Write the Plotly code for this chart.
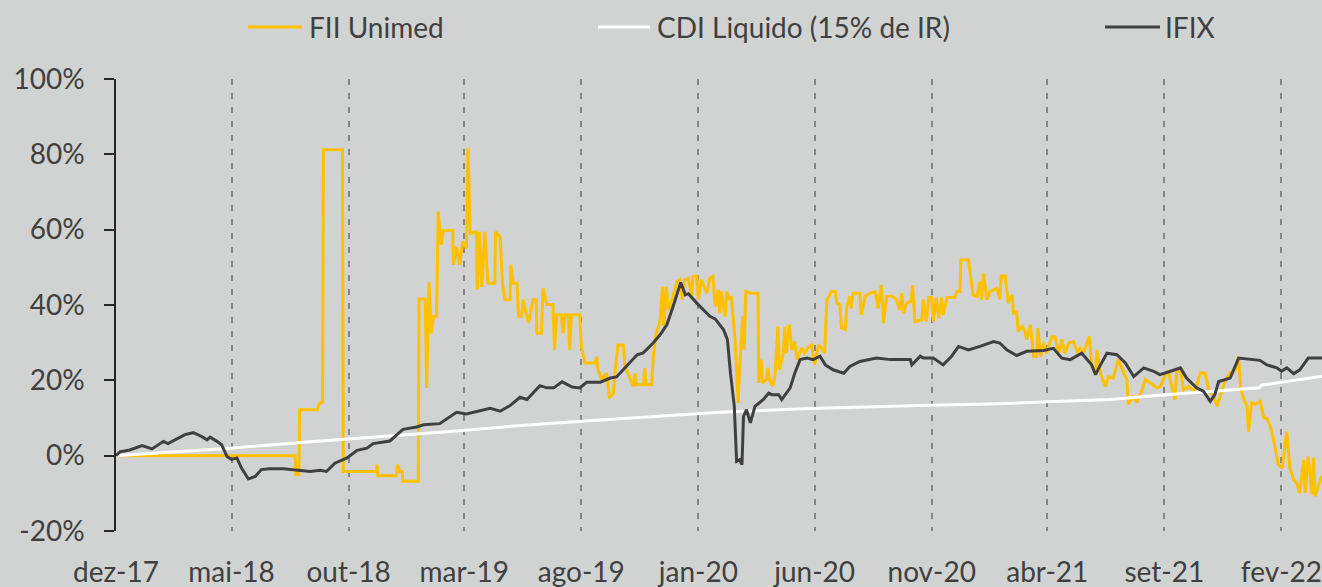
import pandas as pd
import plotly.graph_objects as go

# ---------------- data ----------------
start_date = "2017-12-01"   # day 0 of the series (days below are offsets from it)

fii_days = [0, 234, 235, 239, 240, 263, 265, 268, 270, 271, 296, 297, 340, 341, 342, 366, 368, 371, 374, 375,
            395, 396, 404, 406, 409, 412, 415, 419, 421, 425, 428, 432, 440, 441, 445, 449, 453, 458, 460, 463,
            471, 472, 475, 478, 482, 486, 495, 496, 502, 505, 508, 515, 516, 519, 524, 526, 530, 532, 539, 545,
            549, 550, 556, 558, 563, 571, 573, 576, 582, 584, 587, 591, 593, 595, 606, 608, 613, 626, 628, 630,
            635, 641, 645, 650, 652, 656, 663, 665, 676, 678, 680, 689, 691, 693, 700, 702, 706, 711, 714, 716,
            719, 722, 728, 733, 737, 740, 743, 748, 752, 754, 759, 761, 765, 772, 776, 780, 783, 787, 789, 791,
            796, 798, 802, 804, 806, 809, 811, 813, 815, 817, 819, 821, 823, 828, 839, 840, 843, 845, 850, 852,
            854, 858, 861, 865, 867, 872, 874, 876, 880, 883, 887, 890, 896, 900, 904, 909, 913, 918, 922, 926,
            929, 935, 940, 942, 946, 948, 953, 955, 959, 961, 963, 972, 974, 979, 985, 992, 996, 1000, 1003, 1007,
            1014, 1018, 1020, 1024, 1027, 1029, 1033, 1039, 1041, 1044, 1053, 1055, 1059, 1062, 1066, 1068, 1072,
            1075, 1079, 1081, 1086, 1096, 1099, 1103, 1104, 1114, 1116, 1118, 1120, 1125, 1129, 1131, 1134, 1138,
            1142, 1151, 1155, 1157, 1162, 1166, 1171, 1173, 1177, 1179, 1184, 1188, 1190, 1195, 1197, 1199, 1203,
            1205, 1208, 1212, 1216, 1223, 1227, 1232, 1236, 1240, 1245, 1251, 1256, 1260, 1264, 1269, 1272, 1275,
            1280, 1282, 1286, 1293, 1297, 1303, 1310, 1317, 1321, 1323, 1328, 1334, 1341, 1345, 1352, 1360, 1365,
            1371, 1375, 1384, 1386, 1391, 1395, 1402, 1408, 1412, 1417, 1423, 1428, 1434, 1439, 1443, 1450, 1456,
            1463, 1467, 1470, 1474, 1478, 1480, 1484, 1489, 1495, 1500, 1504, 1510, 1515, 1519, 1524, 1530, 1534,
            1539, 1543, 1547, 1552, 1554, 1558, 1563, 1565, 1567, 1571, 1576]
fii_values = [0, 0, -5, -5, 12.2, 12.2, 13.5, 14.2, 14.2, 81.2, 81.2, -4.2, -4.2, -2.4, -5.3, -5.3, -2.4, -4.2, -4.2, -6.8,
              -6.8, 41.6, 41.6, 18, 46, 32.5, 37, 37, 64.8, 56, 59.8, 59.8, 59.8, 50.7, 55.4, 50.7, 56.8, 55.1, 81.6, 59,
              59.4, 44, 59.4, 44.8, 59.4, 45.8, 45.8, 59.4, 58, 45.8, 41.4, 41.4, 50.7, 45.8, 45.8, 37, 37, 41.4, 35.2, 41.4,
              41.4, 32.5, 32.5, 44.4, 40.1, 40.1, 28.1, 37.4, 37.4, 32.5, 37.4, 37.4, 28.1, 37.4, 37.4, 29, 24.6, 24.6, 26.3, 22.8,
              20.2, 21.9, 15.3, 16.6, 21.9, 29.4, 29.4, 23.7, 18.4, 21.9, 18.8, 18.8, 23.3, 18.8, 18.8, 26.3, 32.5, 35.6, 44.9, 34.3,
              44.9, 38.7, 42.3, 46.2, 46.7, 41.4, 46.7, 47.1, 42.3, 47.6, 47.6, 41.4, 46.7, 43.1, 47.1, 47.6, 39.6, 44, 37.8, 43.6,
              36.9, 43.6, 41.4, 42.3, 37, 30.8, 22.8, 14, 23.7, 32.5, 37, 28.1, 43.6, 43.1, 43.1, 19.3, 25.5, 19.3, 20.2, 23.3,
              20.2, 18.4, 21, 34.3, 22.8, 27.2, 34.3, 27.2, 34.7, 28.1, 30.3, 25.5, 28.6, 27.2, 28.6, 29.4, 24.1, 29.4, 28.6, 27.2,
              41.4, 43.6, 43.6, 40.5, 40.1, 33.9, 33.5, 39.6, 42.3, 39.1, 43.1, 43.1, 37.4, 42.3, 43.1, 43.6, 39.1, 45.3, 35.2, 42.3,
              42.3, 41.8, 41.4, 38.7, 43.1, 37.8, 40.5, 41, 45.3, 35.6, 36, 41.4, 35.6, 42, 42, 35.6, 42,
              36.5, 42, 37.4, 42, 42, 43.6, 43.6, 52, 52, 48.5, 45.8, 42.7, 42.3, 46.2, 41.4, 48.3, 41.4,
              43.6, 44.4, 41.4, 47.7, 47.7, 40.5, 42.7, 37.8, 38.2, 33, 34.3, 33, 30.8, 34.7, 30.8, 26.3, 26.3,
              33.9, 26.3, 29.9, 27.2, 31.6, 31.6, 27.2, 30.8, 27.2, 29.9, 30.3, 27.6, 28.5, 27.2, 29.9, 31.6, 23.7,
              22, 28.1, 22, 18.4, 21, 20.6, 25.5, 22, 20.2, 13.6, 15.9, 14.1, 17.6, 20.2, 19.3, 18, 18.4,
              21.5, 22.4, 14.9, 22, 22.8, 17.5, 18.4, 17.1, 18.4, 22, 22, 17.5, 15.9, 13.1, 15.9, 20.2, 22,
              22.8, 26.3, 17.5, 14.9, 13.1, 6.4, 14, 13.6, 14.4, 10, 10, 6.9, 1.6, -2.4, -3.3, 6.4, -3.3,
              -6.4, -7.3, -9.9, -1.1, -9.9, -0.2, -10.3, -0.6, -10.8, -8.1, -5.4]

cdi_days = [0, 149, 267, 437, 528, 633, 789, 907, 1051, 1155, 1299, 1368, 1494, 1497, 1576]
cdi_values = [0, 2.0, 3.9, 6.4, 8.0, 9.5, 11.5, 12.5, 13.3, 13.8, 14.9, 16.1, 18.0, 18.7, 21.1]

ifix_days = [0, 5, 18, 34, 47, 62, 68, 79, 90, 101, 112, 119, 123, 132, 138, 145, 151, 158, 164, 173,
             182, 190, 201, 219, 236, 254, 267, 275, 286, 302, 315, 328, 336, 358, 375, 393, 402, 423, 445, 458,
             489, 502, 515, 528, 537, 554, 563, 572, 583, 596, 606, 615, 633, 646, 654, 667, 681, 689, 702, 711,
             720, 728, 738, 744, 748, 759, 772, 776, 783, 794, 799, 803, 808, 811, 815, 818, 820, 824, 829, 835,
             846, 853, 857, 866, 870, 881, 887, 894, 903, 911, 920, 927, 937, 951, 959, 972, 994, 1012, 1038, 1040,
             1051, 1055, 1068, 1081, 1092, 1101, 1114, 1129, 1147, 1155, 1164, 1177, 1190, 1212, 1225, 1236, 1247,
             1262, 1275, 1280, 1286, 1295, 1308, 1319, 1330, 1343, 1356, 1364, 1378, 1391, 1399, 1412, 1421, 1430,
             1436, 1441, 1456, 1462, 1467, 1495, 1504, 1517, 1523, 1530, 1539, 1547, 1558, 1576]
ifix_values = [0, 1.0, 1.5, 2.7, 1.8, 3.8, 3.2, 4.4, 5.6, 6.1, 5.1, 4.2, 4.9, 3.8, 2.9, -0.2, -1.0, -0.6, -3.3, -6.2,
               -5.5, -3.7, -3.5, -3.5, -3.9, -4.2, -3.9, -4.2, -2.0, -0.6, 1.4, 2.0, 3.2, 3.9, 7.0, 7.6, 8.2, 8.5, 11.5, 11.1,
               12.6, 11.8, 13.3, 15.5, 14.9, 18.6, 18.0, 18.0, 19.6, 18.2, 18.0, 19.5, 19.5, 20.6, 20.9, 23.7, 26.8, 27.3, 29.9, 32.1,
               34.8, 39.6, 46.0, 42.7, 43.0, 40.5, 37.9, 37.0, 36.3, 33.4, 30.8, 21.9, 13.1, -1.5, -1.1, -2.4, 10.4, 12.2, 8.7, 13.1,
               14.9, 16.6, 16.2, 16.2, 14.9, 18.0, 21.9, 25.5, 25.9, 25.5, 26.4, 24.1, 22.8, 21.9, 23.7, 25.0, 25.9, 25.5, 25.5, 24.1,
               26.4, 25.9, 25.9, 24.1, 26.4, 29.0, 28.1, 29.0, 30.3, 29.9, 28.1, 26.6, 27.7, 27.9, 28.5, 25.9, 25.5,
               27.2, 24.1, 21.5, 23.9, 27.2, 26.8, 24.6, 21.0, 23.3, 22.4, 21.5, 22.4, 23.3, 20.6, 18.0, 17.1, 14.4,
               16.2, 19.7, 20.6, 23.3, 25.9, 25.3, 24.1, 23.3, 22.4, 23.3, 21.8, 22.8, 25.9, 25.9]

tick_dates = ["2017-12-01", "2018-05-01", "2018-10-01", "2019-03-01", "2019-08-01", "2020-01-01",
              "2020-06-01", "2020-11-01", "2021-04-01", "2021-09-01", "2022-02-01"]
tick_labels = ["dez-17", "mai-18", "out-18", "mar-19", "ago-19", "jan-20",
               "jun-20", "nov-20", "abr-21", "set-21", "fev-22"]
y_ticks = [-20, 0, 20, 40, 60, 80, 100]
y_tick_labels = ["-20%", "0%", "20%", "40%", "60%", "80%", "100%"]
end_date = "2022-03-26"

series_names = ["FII Unimed", "CDI Liquido (15% de IR)", "IFIX"]
series_colors = ["#FFC000", "#FFFFFF", "#404040"]

# ---------------- figure ----------------
t0 = pd.Timestamp(start_date)


def to_dates(days):
    return [t0 + pd.Timedelta(days=d) for d in days]


BG = "#D1D3D2"
TXT = "#404040"
FONT = "Lato"
FS = 28

fig = go.Figure()
for name, days, vals, col in zip(series_names,
                                 [fii_days, cdi_days, ifix_days],
                                 [fii_values, cdi_values, ifix_values],
                                 series_colors):
    fig.add_trace(go.Scatter(x=to_dates(days), y=vals, mode="lines", name=name,
                             line=dict(color=col, width=3), showlegend=False,
                             hovertemplate="%{x|%d/%m/%Y}: %{y:.1f}%<extra>" + name + "</extra>"))

fig.update_layout(
    width=1322, height=587,
    margin=dict(l=116, r=0, t=79, b=56, autoexpand=False),
    paper_bgcolor=BG, plot_bgcolor=BG,
    font=dict(family=FONT, size=FS, color=TXT),
    showlegend=False,
)

fig.update_xaxes(
    type="date", range=[start_date, end_date],
    tickmode="array", tickvals=tick_dates, ticktext=tick_labels,
    showgrid=True, gridcolor="#858585", gridwidth=1.5, griddash="6px,8px",
    showline=False, zeroline=False, ticks="",
    tickfont=dict(family=FONT, size=FS, color=TXT),
    ticklabelstandoff=22, automargin=False, ticklabeloverflow="allow",
)
fig.update_yaxes(
    range=[-20, 100], tickmode="array", tickvals=y_ticks, ticktext=y_tick_labels,
    showgrid=False, zeroline=False,
    showline=True, linecolor="#262626", linewidth=1.5,
    ticks="outside", ticklen=10, tickcolor="#262626", tickwidth=1.5,
    tickfont=dict(family=FONT, size=FS, color=TXT),
    ticklabelstandoff=14, automargin=False, ticklabeloverflow="allow",
)

# custom legend (line samples + labels) above the plot area
legend_items = [
    (0.1095, 0.1542, 0.1584),
    (0.3997, 0.4428, 0.4469),
    (0.8201, 0.8657, 0.8682),
]
leg_y = 1.115
for (x0, x1, xt), name, col in zip(legend_items, series_names, series_colors):
    fig.add_shape(type="line", xref="paper", yref="paper", x0=x0, x1=x1, y0=leg_y, y1=leg_y,
                  line=dict(color=col, width=3))
    fig.add_annotation(xref="paper", yref="paper", x=xt, y=leg_y, xanchor="left", yanchor="middle",
                       text=name, showarrow=False, font=dict(family=FONT, size=FS, color=TXT))

fig.write_html(
    "out.html",
    config={"displayModeBar": False},
    post_script="document.body.style.margin='0';document.body.style.overflow='hidden';",
)
